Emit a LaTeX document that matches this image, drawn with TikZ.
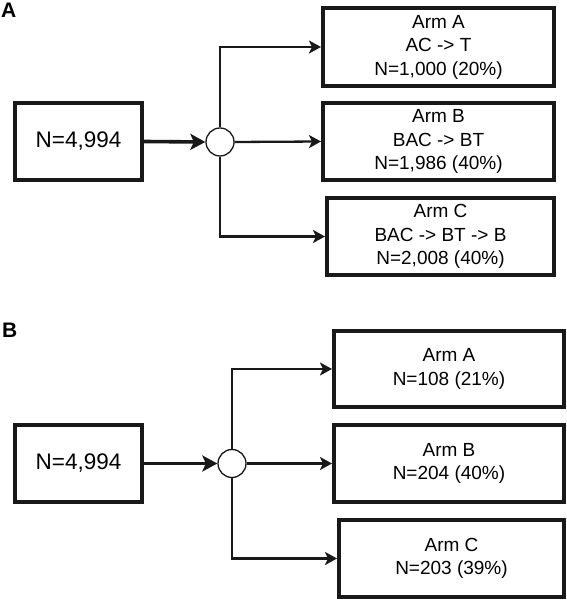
\documentclass[tikz,border=0pt]{standalone}
\usepackage{fontspec}
\setmainfont{Liberation Sans}
\usetikzlibrary{arrows.meta}
\begin{document}
\begin{tikzpicture}[x=1pt,y=1pt,
  armbox/.style={draw=black!90, line width=4pt, align=center, inner sep=0pt, font=\fontsize{19}{23.5}\selectfont},
  inbox/.style={draw=black!90, line width=4pt, inner sep=0pt, minimum width=127pt, minimum height=77pt, font=\fontsize{22.5}{24}\selectfont},
  hub/.style={circle, draw=black!90, line width=1.3pt, fill=white, minimum size=28pt, inner sep=0pt},
  branch/.style={draw=black!90, line width=2.3pt, -{Stealth[length=12pt,width=13pt,inset=3pt]}},
  feed/.style={draw=black!90, line width=3.6pt, -{Stealth[length=15pt,width=16pt,inset=3.5pt]}},
  panel/.style={anchor=base west, inner sep=0pt, font=\fontsize{21}{24}\selectfont\bfseries}]
\useasboundingbox (0,0) rectangle (567,600);

% Panel A
\node[panel] (labA) at (1,582) {A};
\node[inbox] (inA) at (78.5,458.5) {N=4,994};
\node[hub] (cA) at (220,458) {};
\node[armbox, minimum width=231pt, minimum height=78pt] (aA) at (438.5,553) {Arm A\\AC -> T\\N=1,000 (20\%)};
\node[armbox, minimum width=231pt, minimum height=77pt] (bA) at (438.5,458.5) {Arm B\\BAC -> BT\\N=1,986 (40\%)};
\node[armbox, minimum width=227pt, minimum height=77pt] (cArm) at (440.5,363.5) {Arm C\\BAC -> BT -> B\\N=2,008 (40\%)};
\draw[feed] (inA.east) -- (cA.west);
\draw[branch] (cA.north) |- (aA.west);
\draw[branch] (cA.east) -- (bA.west);
\draw[branch] (cA.south) |- (cArm.west);

% Panel B
\node[panel] (labB) at (2,262) {B};
\node[inbox] (inB) at (78.5,136.5) {N=4,994};
\node[hub] (cB) at (232,136.5) {};
\node[armbox, minimum width=230pt, minimum height=76pt] (aB) at (449,231) {Arm A\\N=108 (21\%)};
\node[armbox, minimum width=230pt, minimum height=77pt] (bB) at (449,136.5) {Arm B\\N=204 (40\%)};
\node[armbox, minimum width=225pt, minimum height=77pt] (cBarm) at (451.5,41.5) {Arm C\\N=203 (39\%)};
\draw[feed] (inB.east) -- (cB.west);
\draw[branch] (cB.north) |- (aB.west);
\draw[branch] (cB.east) -- (bB.west);
\draw[branch] (cB.south) |- (cBarm.west);
\end{tikzpicture}
\end{document}
